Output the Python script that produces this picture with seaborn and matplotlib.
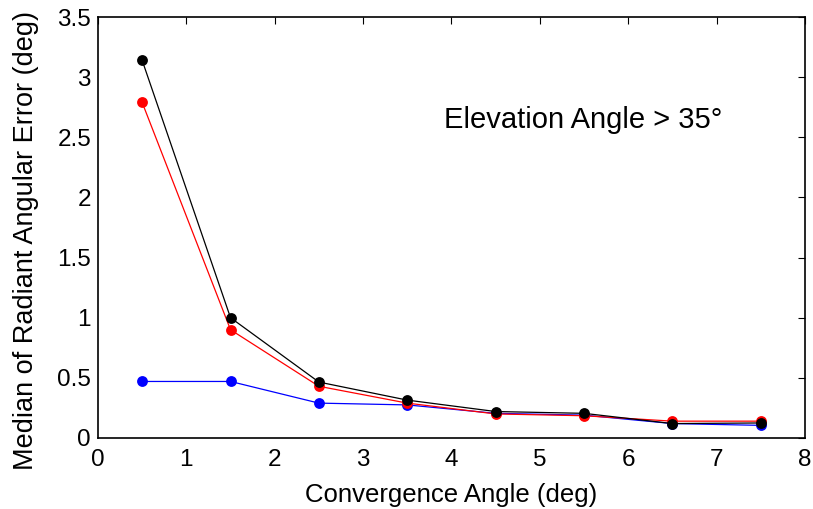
import matplotlib
matplotlib.use("Agg")
import matplotlib.pyplot as plt
import seaborn as sns
import pandas as pd

x = [0.5, 1.5, 2.5, 3.5, 4.5, 5.5, 6.5, 7.5]
blue = [0.47, 0.47, 0.29, 0.275, 0.205, 0.19, 0.12, 0.105]
red = [2.79, 0.90, 0.43, 0.29, 0.20, 0.185, 0.14, 0.14]
black = [3.14, 1.00, 0.465, 0.315, 0.22, 0.205, 0.12, 0.125]
yticks = [0, 0.5, 1, 1.5, 2, 2.5, 3, 3.5]
ytick_labels = ['0', '0.5', '1', '1.5', '2', '2.5', '3', '3.5']

sns.set_theme(style="white")
plt.rcParams['font.family'] = ['Liberation Sans', 'DejaVu Sans']

fig = plt.figure(figsize=(8.13, 5.09), dpi=100)
ax = fig.add_axes([0.1205, 0.1395, 0.8695, 0.8271])

for vals, col in [(blue, 'blue'), (red, 'red'), (black, 'black')]:
    df = pd.DataFrame({'x': x, 'y': vals})
    sns.lineplot(data=df, x='x', y='y', ax=ax, color=col, linewidth=0.9,
                 marker='o', markersize=7.8, markeredgewidth=0, markeredgecolor=col)

ax.set_xlim(0, 8)
ax.set_ylim(0, 3.5)
ax.set_xticks(range(0, 9))
ax.set_yticks(yticks)
ax.set_yticklabels(ytick_labels)
ax.tick_params(direction='in', length=5, width=0.8, top=True, right=True,
               labelsize=17.5, colors='black')
ax.tick_params(axis='x', pad=8)
ax.tick_params(axis='y', pad=5)
for s in ax.spines.values():
    s.set_color('black')
    s.set_linewidth(1.2)
ax.set_xlabel('Convergence Angle (deg)', fontsize=18.5, color='black', labelpad=8.5)
ax.set_ylabel('Median of Radiant Angular Error (deg)', fontsize=19.5, color='black')
ax.yaxis.set_label_coords(-0.084, 0.468)
ax.text(5.49, 2.64, 'Elevation Angle > 35°', fontsize=21, ha='center', va='center', color='black')

fig.savefig('out.png', dpi=100, facecolor='white')
